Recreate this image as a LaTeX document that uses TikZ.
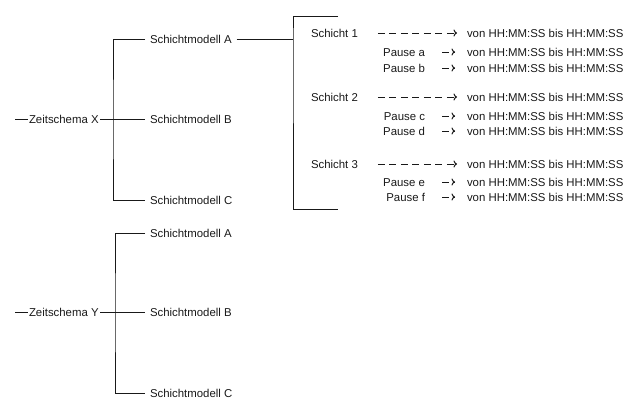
\documentclass[tikz,border=0pt]{standalone}
\usepackage{fontspec}
\setmainfont{Liberation Sans}
\usepackage{tikz}
\usetikzlibrary{arrows.meta, positioning}
\tikzset{
    lbl/.style={inner sep=0pt, outer xsep=1.5pt, text height=8.2pt, text depth=0pt, font=\fontsize{11.4}{13}\selectfont, text=black!90},
    mdl/.style={lbl, outer xsep=5pt},
    ln/.style={line width=1pt, black!90},
    darr/.style={ln, dash pattern=on 7pt off 4.5pt, -{To[length=3.5pt,width=7pt]}},
    sarr/.style={darr, shorten <=18.5pt, shorten >=8.5pt},
    parr/.style={darr, shorten <=15.5pt, shorten >=10.5pt}
}

\begin{document}
\begin{tikzpicture}[x=1pt, y=-1pt]
            \useasboundingbox (0,0) rectangle (639,410);
            \node[lbl, anchor=west] (zx) at (27.5,119) {Zeitschema X};
            \node[mdl, anchor=west] (xa) at (145,39) {Schichtmodell A};
            \node[mdl, anchor=west] (xb) at (145,119) {Schichtmodell B};
            \node[mdl, anchor=west] (xc) at (145,200) {Schichtmodell C};
            \coordinate (zxin) at (15,119);
            \coordinate (kx) at (113,119);
            \draw[ln] (zxin) -- (zx.west);
            \draw[ln] (zx.east) -- (xb.west);
            \draw[ln] (xa.west) -| (kx) |- (xc.west);

            \coordinate (bt) at (338,16);
            \coordinate (bj) at (293,39);
            \coordinate (bb) at (338,209);
            \draw[ln] (bt) -| (bj) |- (bb);
            \draw[ln] (xa.east) -- (bj);

            \node[lbl, anchor=west] (s1) at (309.5,33) {Schicht 1};
            \node[lbl, anchor=west] (t1) at (465.5,33) {von HH:MM:SS bis HH:MM:SS};
            \draw[sarr] (s1.east) -- (t1.west);
            \node[lbl, anchor=east] (pa) at (426.5,52) {Pause a};
            \node[lbl, anchor=west] (ta) at (465.5,52) {von HH:MM:SS bis HH:MM:SS};
            \draw[parr] (pa.east) -- (ta.west);
            \node[lbl, anchor=east] (pb) at (426.5,68) {Pause b};
            \node[lbl, anchor=west] (tb) at (465.5,68) {von HH:MM:SS bis HH:MM:SS};
            \draw[parr] (pb.east) -- (tb.west);

            \node[lbl, anchor=west] (s2) at (309.5,97) {Schicht 2};
            \node[lbl, anchor=west] (t2) at (465.5,97) {von HH:MM:SS bis HH:MM:SS};
            \draw[sarr] (s2.east) -- (t2.west);
            \node[lbl, anchor=east] (pc) at (426.5,116) {Pause c};
            \node[lbl, anchor=west] (tc) at (465.5,116) {von HH:MM:SS bis HH:MM:SS};
            \draw[parr] (pc.east) -- (tc.west);
            \node[lbl, anchor=east] (pd) at (426.5,131) {Pause d};
            \node[lbl, anchor=west] (td) at (465.5,131) {von HH:MM:SS bis HH:MM:SS};
            \draw[parr] (pd.east) -- (td.west);

            \node[lbl, anchor=west] (s3) at (309.5,164) {Schicht 3};
            \node[lbl, anchor=west] (t3) at (465.5,164) {von HH:MM:SS bis HH:MM:SS};
            \draw[sarr] (s3.east) -- (t3.west);
            \node[lbl, anchor=east] (pe) at (426.5,182) {Pause e};
            \node[lbl, anchor=west] (te) at (465.5,182) {von HH:MM:SS bis HH:MM:SS};
            \draw[parr] (pe.east) -- (te.west);
            \node[lbl, anchor=east] (pf) at (426.5,197) {Pause f};
            \node[lbl, anchor=west] (tf) at (465.5,197) {von HH:MM:SS bis HH:MM:SS};
            \draw[parr] (pf.east) -- (tf.west);

            \node[lbl, anchor=west] (zy) at (27.5,312) {Zeitschema Y};
            \node[mdl, anchor=west] (ya) at (145,233) {Schichtmodell A};
            \node[mdl, anchor=west] (yb) at (145,312) {Schichtmodell B};
            \node[mdl, anchor=west] (yc) at (145,393) {Schichtmodell C};
            \coordinate (zyin) at (15,312);
            \coordinate (ky) at (115,312);
            \draw[ln] (zyin) -- (zy.west);
            \draw[ln] (zy.east) -- (yb.west);
            \draw[ln] (ya.west) -| (ky) |- (yc.west);
        \end{tikzpicture}
\end{document}
